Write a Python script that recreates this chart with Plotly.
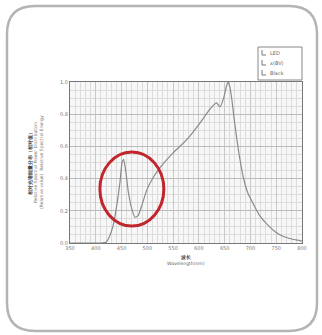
import plotly.graph_objects as go

wavelength = [350, 380, 410, 420, 425, 433, 440, 447, 451, 454, 458, 463, 470, 476, 482, 490, 499, 512, 525, 550, 576, 602, 621, 634, 641, 648, 654, 657, 660, 664, 668, 673, 679, 686, 695, 706, 718, 731, 748, 764, 780, 796, 800]
intensity = [0.0, 0.0, 0.0, 0.005, 0.03, 0.10, 0.22, 0.38, 0.50, 0.52, 0.45, 0.32, 0.21, 0.16, 0.17, 0.24, 0.33, 0.41, 0.47, 0.56, 0.64, 0.745, 0.83, 0.87, 0.845, 0.90, 0.98, 1.0, 0.97, 0.89, 0.78, 0.66, 0.53, 0.41, 0.31, 0.24, 0.17, 0.12, 0.07, 0.04, 0.025, 0.015, 0.012]
x_ticks = [350, 400, 450, 500, 550, 600, 650, 700, 750, 800]
y_ticks = [0.0, 0.2, 0.4, 0.6, 0.8, 1.0]
legend_names = ["LED", "x(BV)", "Black"]

L, R, T, B = 70, 20, 82, 92
W, H = 322, 335
pw, ph = W - L - R, H - T - B

def px(x):
    return (x - L) / pw

def py(y):
    return (H - B - y) / ph

def rrect(x0, y0, x1, y1, r):
    pts = [
        f"M {px(x0+r)},{py(y0)}",
        f"L {px(x1-r)},{py(y0)}",
        f"Q {px(x1)},{py(y0)} {px(x1)},{py(y0+r)}",
        f"L {px(x1)},{py(y1-r)}",
        f"Q {px(x1)},{py(y1)} {px(x1-r)},{py(y1)}",
        f"L {px(x0+r)},{py(y1)}",
        f"Q {px(x0)},{py(y1)} {px(x0)},{py(y1-r)}",
        f"L {px(x0)},{py(y0+r)}",
        f"Q {px(x0)},{py(y0)} {px(x0+r)},{py(y0)}",
        "Z",
    ]
    return " ".join(pts)

fig = go.Figure()
fig.add_trace(go.Scatter(x=wavelength, y=intensity, mode="lines", line=dict(color="#8a8a8a", width=1.2, shape="spline", smoothing=0.6), name=legend_names[0], showlegend=False))

shapes = [
    dict(type="path", xref="paper", yref="paper", path=rrect(7, 6, 317, 331, 28), line=dict(color="#b4b4b4", width=2.5), fillcolor="rgba(0,0,0,0)", layer="below"),
    dict(type="circle", xref="x", yref="y", x0=408, x1=532, y0=0.105, y1=0.565, line=dict(color="#c0262c", width=3)),
    dict(type="rect", xref="paper", yref="paper", x0=px(258), x1=px(302), y0=py(80), y1=py(47), line=dict(color="#888", width=1), fillcolor="white"),
]

annotations = [
    dict(xref="paper", yref="paper", x=px(24), y=0.5, text="<b>相对光谱能量分布（相对值）</b>", textangle=-90, showarrow=False, font=dict(size=5, color="#444")),
    dict(xref="paper", yref="paper", x=px(31), y=0.5, text="Relative Spectral Power Distribution", textangle=-90, showarrow=False, font=dict(size=4.5, color="#777")),
    dict(xref="paper", yref="paper", x=px(37), y=0.5, text="(Relative value)  Relative Spectral Energy", textangle=-90, showarrow=False, font=dict(size=4.5, color="#777")),
    dict(xref="paper", yref="paper", x=0.5, y=py(262), text="<b>波长</b>", showarrow=False, font=dict(size=5, color="#444")),
    dict(xref="paper", yref="paper", x=0.5, y=py(268), text="Wavelength(nm)", showarrow=False, font=dict(size=4.5, color="#666")),
]

for i, name in enumerate(legend_names):
    yc = 53 + i * 10
    shapes.append(dict(type="path", xref="paper", yref="paper",
                       path=f"M {px(262)},{py(yc-3)} L {px(262)},{py(yc+2)} L {px(266)},{py(yc+2)}",
                       line=dict(color="#777", width=1)))
    annotations.append(dict(xref="paper", yref="paper", x=px(268), y=py(yc), xanchor="left", yanchor="middle",
                            text=name, showarrow=False, font=dict(size=5, color="#666")))

fig.update_layout(
    width=W, height=H, margin=dict(l=L, r=R, t=T, b=B, autoexpand=False),
    paper_bgcolor="white", plot_bgcolor="#f7f7f7",
    shapes=shapes, annotations=annotations,
    font=dict(family="DejaVu Sans", size=5, color="#777"),
    showlegend=False,
)
fig.update_xaxes(range=[350, 800], tickvals=x_ticks, ticktext=[str(v) for v in x_ticks], showgrid=True, gridcolor="#c8c8c8", gridwidth=0.8,
                 minor=dict(dtick=10, showgrid=True, gridcolor="#dcdcdc", gridwidth=0.5), showline=True, linecolor="#777", linewidth=1.2, mirror=True, zeroline=False, ticks="", tickfont=dict(size=5, color="#777"))
fig.update_yaxes(range=[0, 1.0], tickvals=y_ticks, ticktext=["0.0", "0.2", "0.4", "0.6", "0.8", "1.0"], showgrid=True, gridcolor="#bbbbbb", gridwidth=0.8,
                 minor=dict(dtick=0.05, showgrid=True, gridcolor="#dcdcdc", gridwidth=0.5), showline=True, linecolor="#777", linewidth=1.2, mirror=True, zeroline=False, ticks="", tickfont=dict(size=5, color="#777"))

fig.write_html("out.html", config={"displayModeBar": False},
               post_script="document.body.style.margin='0';document.body.style.overflow='hidden';")
